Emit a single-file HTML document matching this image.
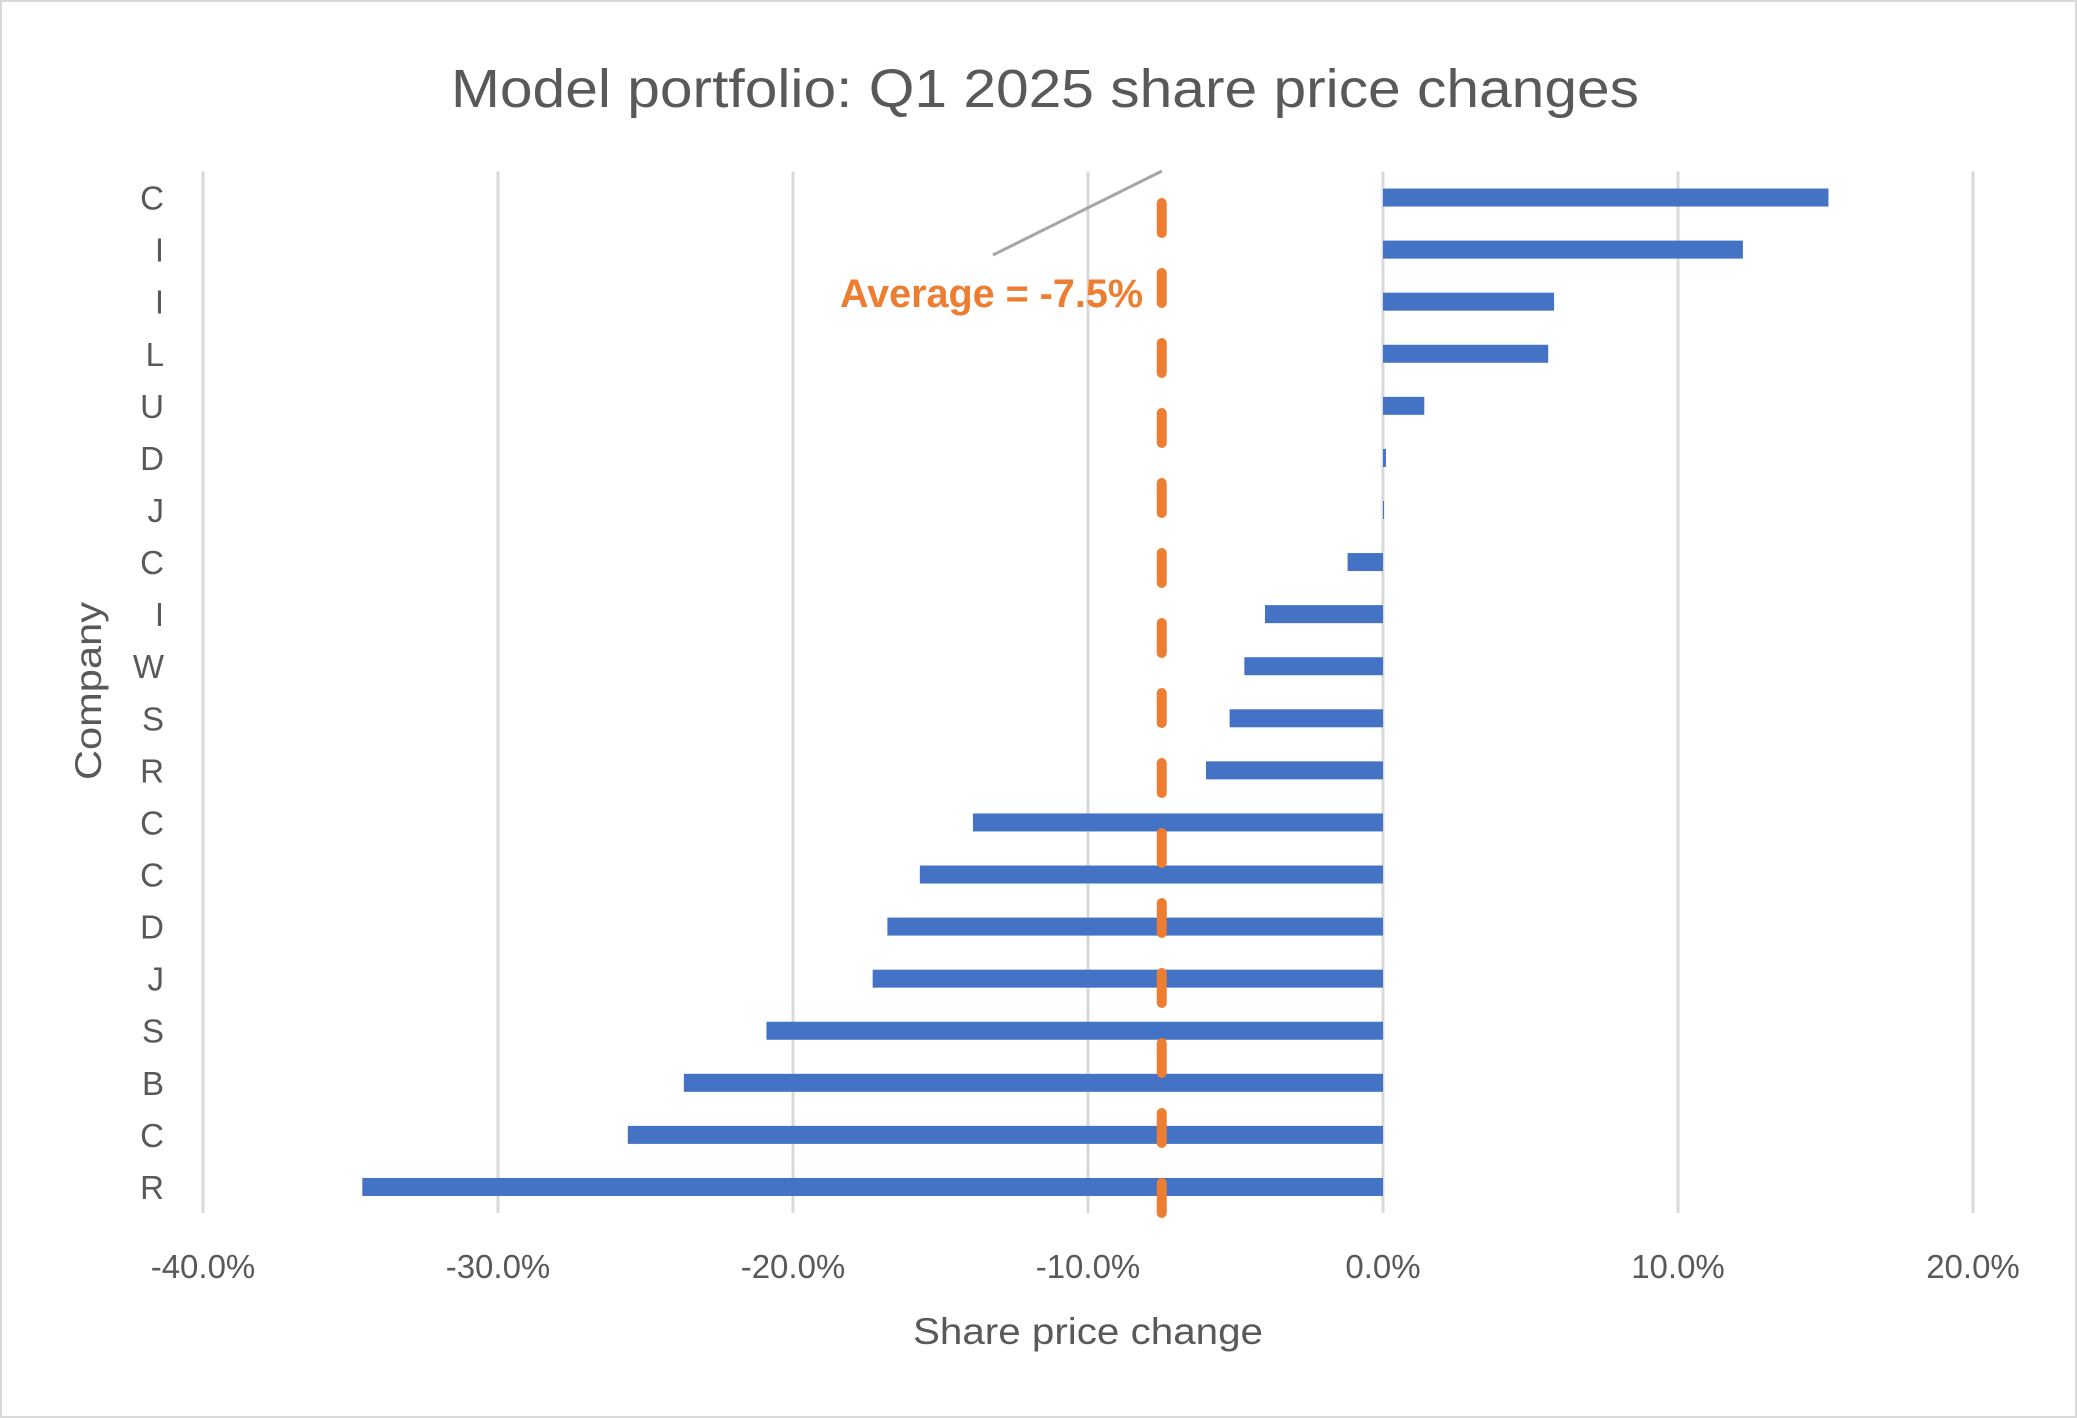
<!DOCTYPE html>
<html><head><meta charset="utf-8"><style>
html,body{margin:0;padding:0;background:#fff;}
svg{display:block;font-family:"Liberation Sans",sans-serif;}
</style></head><body>
<svg id="chart" width="2077" height="1418" viewBox="0 0 2077 1418">
<rect x="1" y="1" width="2075" height="1416" fill="#fff" stroke="#d9d9d9" stroke-width="2"/>
<text x="1045" y="107" text-anchor="middle" font-size="54" fill="#595959" textLength="1188" lengthAdjust="spacingAndGlyphs">Model portfolio: Q1 2025 share price changes</text>
<g id="grid"></g><g id="bars"></g><g id="ylabels"></g><g id="xlabels"></g>
<line x1="993" y1="255" x2="1162" y2="171" stroke="#a6a6a6" stroke-width="3"/>
<text x="840" y="307" font-size="40" font-weight="bold" fill="#ed7d31" textLength="303" lengthAdjust="spacingAndGlyphs">Average = -7.5%</text>
<text x="1088" y="1344" text-anchor="middle" font-size="37" fill="#595959" textLength="350" lengthAdjust="spacingAndGlyphs">Share price change</text>
<text x="0" y="0" transform="translate(101,691) rotate(-90)" text-anchor="middle" font-size="37" fill="#595959" textLength="178" lengthAdjust="spacingAndGlyphs">Company</text>
</svg>
<script>
const cats=["C","I","I","L","U","D","J","C","I","W","S","R","C","C","D","J","S","B","C","R"];
const values=[15.1,12.2,5.8,5.6,1.4,0.1,0,-1.2,-4.0,-4.7,-5.2,-6.0,-13.9,-15.7,-16.8,-17.3,-20.9,-23.7,-25.6,-34.6];
const ticks=[-40,-30,-20,-10,0,10,20];
const tickLabels=["-40.0%","-30.0%","-20.0%","-10.0%","0.0%","10.0%","20.0%"];
const average=[-7.5];
const NS="http://www.w3.org/2000/svg";
const xs=v=>1383+(v)*29.5;
const plotTop=171.5,plotBottom=1213;
const step=(plotBottom-plotTop)/cats.length;
const ys=i=>plotTop+step*(i+0.5);
function mk(tag,attrs,parent){const e=document.createElementNS(NS,tag);for(const k in attrs)e.setAttribute(k,attrs[k]);document.getElementById(parent).appendChild(e);return e;}
ticks.forEach((t,i)=>{
 const g=mk('line',{x1:xs(t),x2:xs(t),y1:plotTop,y2:plotBottom,stroke:'#d9d9d9','stroke-width':3},'grid');
 
 
 const l=mk('text',{x:xs(t),y:1278,'text-anchor':'middle','font-size':33,fill:'#595959'},'xlabels');
 l.textContent=tickLabels[i];
 
 
});
values.forEach((v,i)=>{
 const x0=Math.min(xs(0),xs(v)),w=Math.abs(xs(v)-xs(0));
 const b=mk('rect',{x:x0,y:ys(i)-9,width:Math.max(w,1),height:18,fill:'#4472c4'},'bars');
 
 
 const l=mk('text',{x:164,y:ys(i)+12,'text-anchor':'end','font-size':33,fill:'#595959'},'ylabels');
 l.textContent=cats[i];
 
 
});
const a=mk('line',{x1:xs(average[0]),x2:xs(average[0]),y1:203,y2:1215,stroke:'#ed7d31','stroke-width':10,'stroke-linecap':'round','stroke-dasharray':'30 40'},'bars');


</script>
</body></html>
